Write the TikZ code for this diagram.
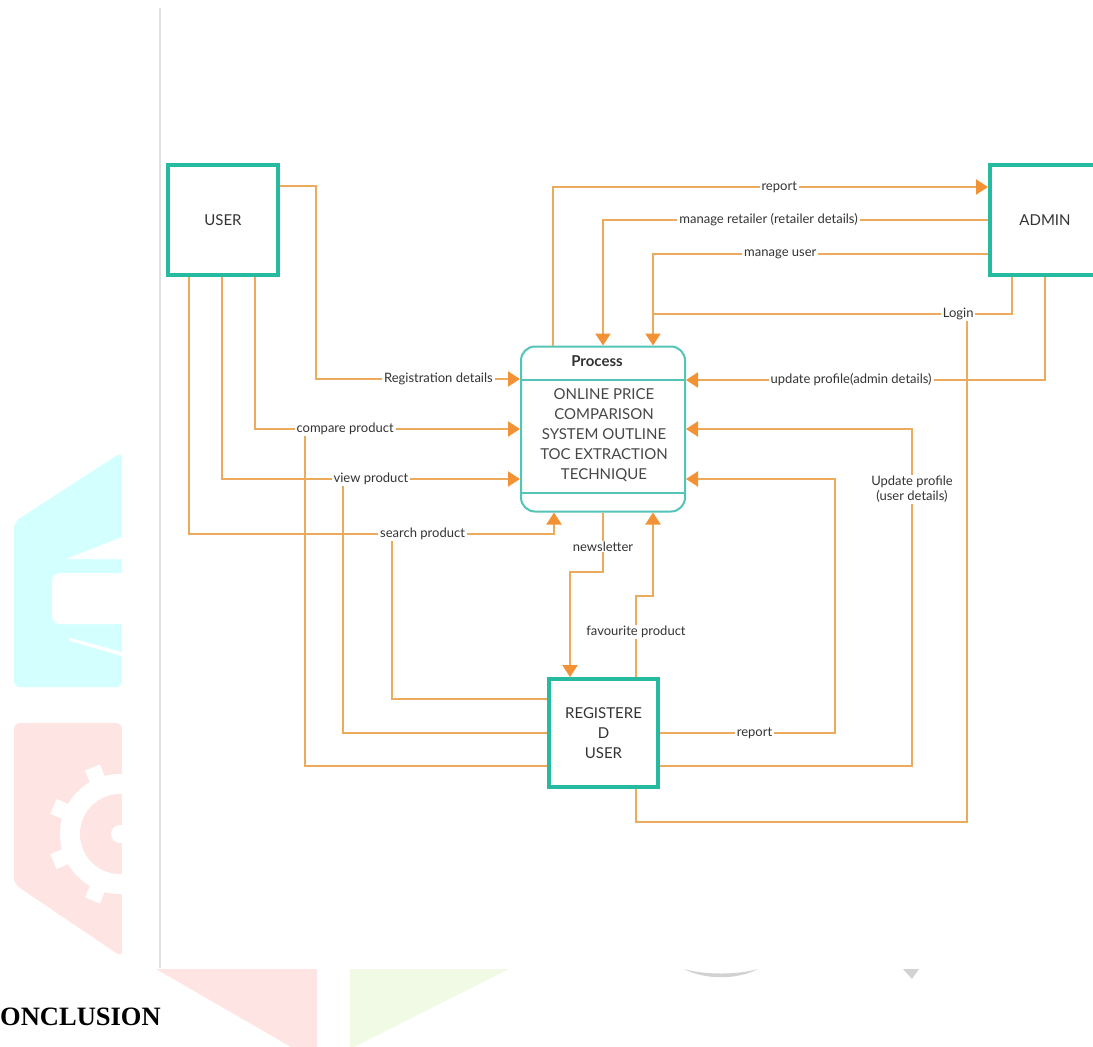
\documentclass[tikz,border=0pt]{standalone}
\usepackage{fontspec}
\setmainfont{Lato}
\newfontfamily\headfont{Liberation Serif}
\usepackage{tikz}
\usetikzlibrary{arrows.meta}
\definecolor{boxteal}{RGB}{38, 187, 160}
\definecolor{proteal}{RGB}{84, 196, 184}
\definecolor{flowc}{RGB}{236, 170, 92}
\definecolor{tipc}{RGB}{242, 146, 52}
\definecolor{textgray}{RGB}{51, 51, 51}
\definecolor{wmcyan}{RGB}{212, 255, 255}
\definecolor{wmpink}{RGB}{255, 228, 228}
\definecolor{wmgreen}{RGB}{240, 250, 228}

\begin{document}
\begin{tikzpicture}[
    x=1pt, y=-1pt,
    entity/.style={rectangle, draw=boxteal, line width=4pt, minimum width=110pt, minimum height=110pt, fill=white, inner sep=0pt, align=center, text=textgray, font=\fontsize{15}{20}\selectfont},
    proc/.style={rectangle, rounded corners=14pt, draw=proteal, line width=2pt, minimum width=164pt, minimum height=165pt, fill=white},
    flow/.style={draw=flowc, line width=2pt},
    arrow/.style={flow, -{Triangle[length=12pt, width=15pt, color=tipc]}},
    lbl/.style={fill=white, inner xsep=2pt, inner ysep=1pt, text=textgray, font=\fontsize{13}{15}\selectfont}
]
    \useasboundingbox (0,0) rectangle (1093,1047);

    % watermark behind the screenshot
    \fill[wmcyan, rounded corners=6pt] (14,522) -- (122,452) -- (122,687) -- (14,687) -- cycle;
    \fill[white] (66,559) -- (122,537) -- (122,559) -- cycle;
    \fill[white, rounded corners=8pt] (52,573) rectangle (140,624);
    \fill[white] (70,638) -- (122,652) -- (122,656) -- (70,641) -- cycle;
    \fill[wmpink, rounded corners=6pt] (14,723) -- (122,723) -- (122,957) -- (14,884) -- cycle;
    \fill[white] (120,834) circle (60pt);
    \foreach \a in {22.5,67.5,...,337.5}
        \fill[white, rotate around={\a:(120,834)}] (168,826) rectangle (192,842);
    \fill[wmpink] (120,834) circle (40pt);
    \fill[white] (120,834) circle (9pt);
    \fill[wmpink] (156,969) -- (317,969) -- (317,1047) -- (291,1047) -- cycle;
    \fill[wmgreen] (350,969) -- (509,969) -- (354,1047) -- (350,1047) -- cycle;
    \fill[gray!35] (684,969) .. controls (705,980) and (737,980) .. (758,969) .. controls (737,975) and (705,975) .. cycle;
    \fill[gray!35] (903,969) -- (919,969) -- (912,979) -- cycle;
    \node[anchor=west, inner sep=0pt, font=\headfont\bfseries\fontsize{26.5}{30}\selectfont] (concl) at (0,1017) {ONCLUSION};

    % screenshot area
    \fill[white] (122,0) rectangle (1093,968);
    \draw[gray!25, line width=1.5pt] (160,8) -- (160,968);

    % entities and process
    \node[entity] (user) at (223,220) {USER};
    \node[entity] (admin) at (1045,220) {ADMIN};
    \node[entity, minimum width=109pt, minimum height=108pt] (reg) at (603.5,733) {REGISTERE\\D\\USER};
    \node[proc] (process) at (603,429) {};
    \draw[proteal, line width=2pt] (process.west |- 0,380) -- (process.east |- 0,380);
    \draw[proteal, line width=2pt] (process.west |- 0,493) -- (process.east |- 0,493);
    \node[text=textgray, font=\bfseries\fontsize{15}{18}\selectfont] (ptitle) at (597,361) {Process};
    \node[align=center, text=textgray!90, font=\fontsize{15}{20}\selectfont] (pbody) at (604,435) {ONLINE PRICE\\COMPARISON\\SYSTEM OUTLINE\\TOC EXTRACTION\\TECHNIQUE};

    % registered user flows joining the user flows
    \draw[flow] (reg.west |- 0,699) -- (392,699) -- (392,534);
    \draw[flow] (reg.west |- 0,733) -- (343,733) -- (343,479);
    \draw[flow] (reg.west |- 0,766) -- (305,766) -- (305,429);
    \draw[flow] (reg.south -| 636,0) -- (636,822) -- (967,822) -- (967,314);

    % user flows
    \draw[arrow] (user.east |- 0,186) -| (316,379) -- node[lbl, pos=0.6] {Registration details} (process.west |- 0,379);
    \draw[arrow] (user.south -| 255,0) -- (255,429) -- node[lbl, pos=0.34] {compare product} (process.west |- 0,429);
    \draw[arrow] (user.south -| 222,0) -- (222,479) -- node[lbl, pos=0.5] {view product} (process.west |- 0,479);
    \draw[arrow] (user.south -| 189,0) -- (189,534) -- node[lbl, pos=0.64] {search product} (554,534) -- (process.south -| 554,0);

    % admin flows
    \draw[arrow] (process.north -| 553,0) -- (553,187) -- node[lbl, pos=0.52] {report} (admin.west |- 0,187);
    \draw[arrow] (admin.west |- 0,220) -- node[lbl, pos=0.57] {manage retailer (retailer details)} (603,220) -- (process.north -| 603,0);
    \draw[arrow] (admin.west |- 0,254) -- node[lbl, pos=0.62] {manage user} (653,254) -- (process.north -| 653,0);
    \draw[flow] (admin.south -| 1012,0) -- (1012,314) -- node[lbl, pos=0.15] {Login} (653,314);
    \draw[arrow] (admin.south -| 1045,0) -- (1045,380) -- node[lbl, pos=0.54] {update profile(admin details)} (process.east |- 0,380);

    % registered user flows
    \draw[arrow] (reg.east |- 0,766) -- (912,766) -- node[lbl, pos=0.82, align=center] {Update profile\\(user details)} (912,429) -- (process.east |- 0,429);
    \draw[arrow] (reg.east |- 0,733) -- node[lbl, pos=0.54] {report} (835,733) -- (835,479) -- (process.east |- 0,479);
    \draw[arrow] (process.south -| 603,0) -- node[lbl, pos=0.57] {newsletter} (603,572) -- (570,572) -- (reg.north -| 570,0);
    \draw[arrow] (reg.north -| 636,0) -- node[lbl, pos=0.56] {favourite product} (636,596) -- (653,596) -- (process.south -| 653,0);
\end{tikzpicture}
\end{document}
